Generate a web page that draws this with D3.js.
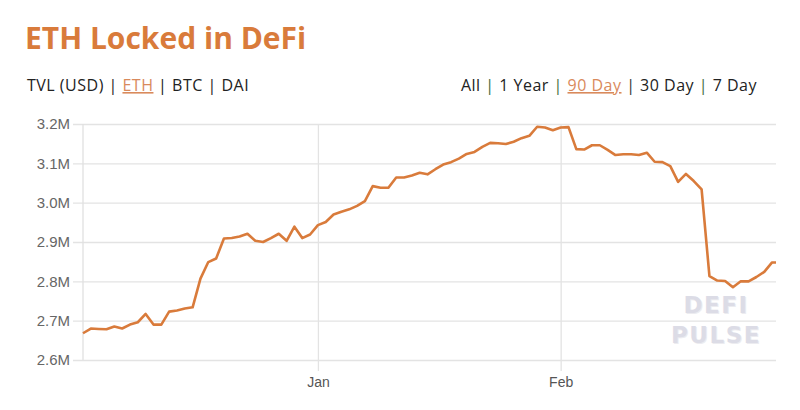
<!DOCTYPE html>
<html>
<head>
<meta charset="utf-8">
<script src="https://cdn.jsdelivr.net/npm/d3@7"></script>
<style>
  html, body { margin: 0; padding: 0; background: #fff; }
  svg { display: block; }
</style>
</head>
<body>
<svg id="chart" width="800" height="410"></svg>
<script>
// ---- data ----
const startDate = "2019-12-02";
const ethLockedM = [
  2.668, 2.680, 2.679, 2.678, 2.685, 2.680, 2.690, 2.696, 2.717, 2.690,
  2.690, 2.723, 2.726, 2.731, 2.734, 2.807, 2.849, 2.858, 2.909, 2.910,
  2.914, 2.921, 2.903, 2.900, 2.910, 2.921, 2.903, 2.939, 2.910, 2.919,
  2.943, 2.951, 2.970, 2.977, 2.983, 2.992, 3.004, 3.042, 3.038, 3.038,
  3.064, 3.064, 3.069, 3.076, 3.072, 3.085, 3.097, 3.103, 3.112, 3.124,
  3.129, 3.142, 3.152, 3.151, 3.149, 3.155, 3.164, 3.170, 3.193, 3.191,
  3.184, 3.191, 3.192, 3.136, 3.135, 3.146, 3.146, 3.134, 3.121, 3.123,
  3.123, 3.121, 3.127, 3.104, 3.103, 3.093, 3.053, 3.073, 3.055, 3.034,
  2.813, 2.802, 2.801, 2.785, 2.800, 2.800, 2.811, 2.824, 2.848
];
const lastPartial = { date: "2020-02-28T12:00", value: 2.848 };
const yTicks = [2.6, 2.7, 2.8, 2.9, 3.0, 3.1, 3.2];
const xTicks = ["2020-01-01", "2020-02-01"];
const assetOptions = ["TVL (USD)", "ETH", "BTC", "DAI"];
const rangeOptions = ["All", "1 Year", "90 Day", "30 Day", "7 Day"];
const activeAsset = "ETH";
const activeRange = "90 Day";

// ---- build ----
(function () {
const parse = d3.isoParse;
const d0 = parse(startDate);
const series = ethLockedM.map((v, i) => ({ date: d3.timeDay.offset(d0, i), value: v }));
series.push({ date: parse(lastPartial.date), value: lastPartial.value });

const svg = d3.select("#chart");
const orange = "#d97b3b";
const pL = 83, pR = 776, pT = 124, pB = 360;

const x = d3.scaleTime().domain(d3.extent(series, d => d.date)).range([pL, pR]);
const y = d3.scaleLinear().domain([2.6, 3.2]).range([pB, pT]);

// Title
svg.append("text").attr("x", 25).attr("y", 49)
  .attr("font-family", "'Open Sans', sans-serif").attr("font-weight", 700)
  .attr("font-size", 30).attr("fill", orange).text("ETH Locked in DeFi");

function nav(items, active, xStart, anchor, sepColors) {
  const t = svg.append("text").attr("x", xStart).attr("y", 91)
    .attr("text-anchor", anchor)
    .attr("font-family", "'Open Sans', sans-serif").attr("font-size", 16)
    .attr("letter-spacing", 0.5)
    .attr("fill", "#222");
  items.forEach((it, i) => {
    if (i > 0) t.append("tspan").attr("fill", sepColors ? sepColors[i - 1] : "#222").text(" | ");
    const s = t.append("tspan").text(it);
    if (it === active) s.attr("fill", "#d98a5c").attr("text-decoration", "underline");
  });
}
nav(assetOptions, activeAsset, 27, "start", null);
nav(rangeOptions, activeRange, 757, "end", ["#3d6b3d", "#3d6b3d", "#333", "#3d6b3d"]);

// Grid - horizontal
const yAxis = d3.axisLeft(y).tickValues(yTicks).tickFormat(d => d3.format(".1f")(d) + "M")
  .tickSize(0).tickPadding(0);
const gy = svg.append("g").attr("transform", `translate(${pL - 10},0)`).call(yAxis);
gy.select(".domain").remove();
gy.selectAll(".tick line").attr("stroke", "#e3e3e3").attr("stroke-width", 1.3)
  .attr("x1", 0).attr("x2", pR - pL + 10);
gy.selectAll(".tick text").attr("font-family", "'Liberation Sans', Arial, sans-serif")
  .attr("font-size", 15).attr("fill", "#666").attr("x", -3);

// Grid - vertical
const xAxis = d3.axisBottom(x).tickValues(xTicks.map(parse))
  .tickFormat(d3.timeFormat("%b")).tickSize(-(pB - pT) - 11).tickPadding(6);
const gx = svg.append("g").attr("transform", `translate(0,${pB + 11})`).call(xAxis);
gx.select(".domain").remove();
gx.selectAll(".tick line").attr("stroke", "#e3e3e3").attr("stroke-width", 1.3);
gx.selectAll(".tick text").attr("font-family", "'Liberation Sans', Arial, sans-serif")
  .attr("font-size", 14).attr("fill", "#555");

// left axis line
svg.append("line").attr("x1", pL).attr("x2", pL).attr("y1", pT).attr("y2", pB)
  .attr("stroke", "#e0e0e0").attr("stroke-width", 1.3);

// Watermark
const wm = svg.append("g").attr("font-family", "'DejaVu Sans', sans-serif")
  .attr("font-weight", 700).attr("text-anchor", "middle").attr("letter-spacing", 1.5);
[["DEFI", 716, 313, 23], ["PULSE", 716, 343, 23]].forEach(([t, tx, ty, fs]) => {
  wm.append("text").attr("x", tx + 1).attr("y", ty + 1).attr("font-size", fs)
    .attr("fill", "#ececf0").text(t);
  wm.append("text").attr("x", tx).attr("y", ty).attr("font-size", fs)
    .attr("fill", "#dcdce6").text(t);
});

// Line
const line = d3.line().x(d => x(d.date)).y(d => y(d.value));
svg.append("path").datum(series).attr("d", line).attr("fill", "none")
  .attr("stroke", orange).attr("stroke-width", 2.6).attr("stroke-linejoin", "round");
})();
</script>
</body>
</html>
